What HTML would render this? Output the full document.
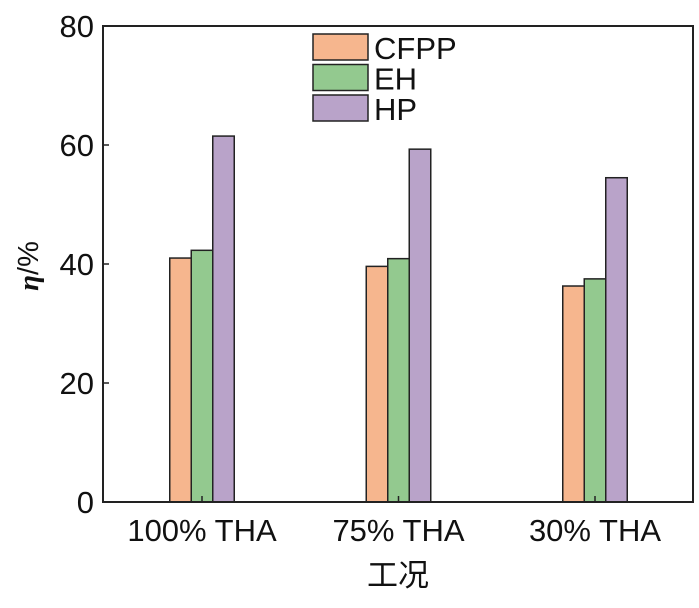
<!DOCTYPE html>
<html><head><meta charset="utf-8"><style>
body{margin:0;background:#fff}
svg text{font-family:"Liberation Sans","Noto Sans CJK SC",sans-serif;fill:#111}
</style></head><body>
<svg width="699" height="603" viewBox="0 0 699 603">
<g id="plot"></g>
</svg>
<script>
const categories=["100% THA","75% THA","30% THA"];
const seriesNames=["CFPP","EH","HP"];
const cfpp=[41.0,39.6,36.3];
const eh=[42.3,40.9,37.5];
const hp=[61.5,59.3,54.5];
const yTicks=[0,20,40,60,80];
const colors=["#f6b68e","#93c98f","#b9a3c9"];
const L=103,R=693,T=26,B=502,yMax=80;
const y=v=>B-(v/yMax)*(B-T);
const xc=i=>202+i*196.5;
const bw=21.5;
const NS="http://www.w3.org/2000/svg";
const svg=document.querySelector('svg');
function mk(tag,attrs,parent){const e=document.createElementNS(NS,tag);for(const k in attrs)e.setAttribute(k,attrs[k]);(parent||svg).appendChild(e);return e;}
const series=[cfpp,eh,hp];
series.forEach((vals,s)=>{vals.forEach((v,i)=>{
 const r=mk('rect',{x:xc(i)+(s-1.5)*bw,y:y(v),width:bw,height:B-y(v),fill:colors[s],stroke:'#222','stroke-width':1.5});
 
 
});});
const frame=mk('rect',{x:L,y:T,width:R-L,height:B-T,fill:'none',stroke:'#222','stroke-width':2});


yTicks.forEach(t=>{
 mk('line',{x1:L,x2:L+6,y1:y(t),y2:y(t),stroke:'#222','stroke-width':1.5});
 const tx=mk('text',{x:L-9,y:y(t)+11,'text-anchor':'end','font-size':31});
 tx.textContent=t;
 
 
});
categories.forEach((c,i)=>{
 mk('line',{x1:xc(i),x2:xc(i),y1:B,y2:B-6,stroke:'#222','stroke-width':1.5});
 const tx=mk('text',{x:xc(i),y:541,'text-anchor':'middle','font-size':31});
 tx.textContent=c;
 
 
});
seriesNames.forEach((n,s)=>{
 const yy=34+s*30.5;
 const r=mk('rect',{x:313,y:yy,width:55,height:26,fill:colors[s],stroke:'#222','stroke-width':1.5});
 
 
 const tx=mk('text',{x:374,y:yy+25,'font-size':31});
 tx.textContent=n;
 
 
});
const yt=mk('text',{transform:'translate(38,266) rotate(-90)','text-anchor':'middle','font-size':29});
yt.innerHTML='<tspan font-style="italic" font-weight="bold" font-family="Liberation Serif">η</tspan>/%';


const xt=mk('text',{x:398,y:586,'text-anchor':'middle','font-size':31,'font-family':'"Noto Serif CJK SC",serif'});
xt.textContent='工况';


</script>
</body></html>
